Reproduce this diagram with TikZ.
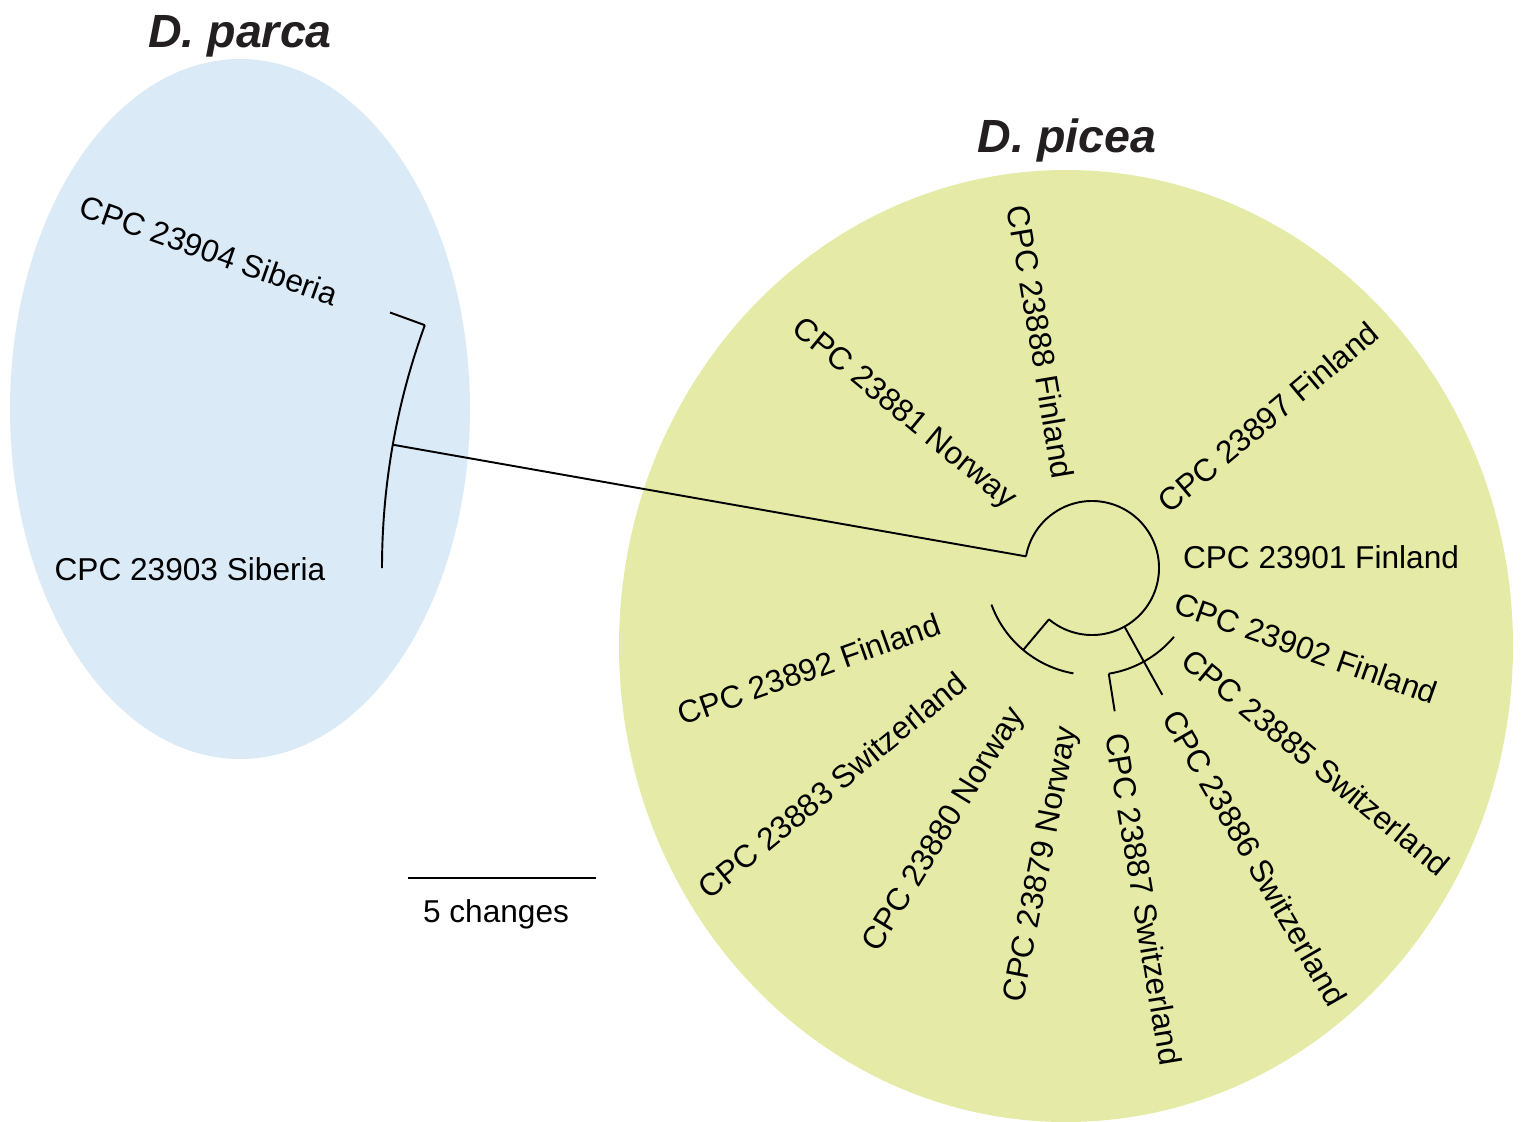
\documentclass[tikz,border=0pt]{standalone}
\usepackage{fontspec}
\setmainfont{Liberation Sans}

\definecolor{parcablue}{RGB}{218,234,247}
\definecolor{piceagreen}{RGB}{229,235,166}
\definecolor{titlegray}{RGB}{35,31,32}

\tikzset{
  branch/.style={line width=1.1pt, black},
  leaf/.style={inner sep=0pt, text height=13pt, text depth=0pt,
    font=\fontsize{18}{20}\selectfont},
  species/.style={inner sep=0pt, anchor=base, text=titlegray,
    font=\fontsize{26.5}{30}\selectfont\bfseries\itshape},
}

\begin{document}
\begin{tikzpicture}[x=0.02cm, y=0.02cm]
    \useasboundingbox (0,0) rectangle (1521,-1122);
    % the two species
    \fill[parcablue] (240,-409) ellipse [x radius=230, y radius=350];
    \fill[piceagreen] (1066,-646) ellipse [x radius=447, y radius=476];
    \node[species] (parcaname) at (240,-48) {D. parca};
    \node[species] (piceaname) at (1067,-153) {D. picea};

    % tree, drawn round the centre of D. picea
    \begin{scope}[shift={(1092,-568)}]
        \coordinate (root) at (170:67);
        \coordinate (parca) at (170:710);
        \coordinate (p04) at (160:710);
        \coordinate (t04) at (160:747);
        \coordinate (cA) at (230:67);
        \coordinate (nA) at (230:107);
        \coordinate (a92) at (200:107);
        \coordinate (cB) at (-61:67);
        \coordinate (t86) at (-61:145);
        \coordinate (p87) at (-81:107);
        \coordinate (t87) at (-81:145);
        \draw[branch] (root) -- (parca);
        \draw[branch] (p04) arc[start angle=160, end angle=180, radius=710];
        \draw[branch] (p04) -- (t04);
        \draw[branch] (root) arc[start angle=170, end angle=-130, radius=67];
        \draw[branch] (cA) -- (nA);
        \draw[branch] (a92) arc[start angle=200, end angle=260, radius=107];
        \draw[branch] (cB) -- (t86);
        \draw[branch] (p87) arc[start angle=-81, end angle=-40, radius=107];
        \draw[branch] (p87) -- (t87);
    \end{scope}

    % leaf names
    \node[leaf, rotate=-19.5] (l23904) at (209,-250) {CPC 23904 Siberia};
    \node[leaf] (l23903) at (190,-569) {CPC 23903 Siberia};
    \node[leaf, rotate=-39.5] (l23881) at (906,-412) {CPC 23881 Norway};
    \node[leaf, rotate=-80.5] (l23888) at (1041,-342) {CPC 23888 Finland};
    \node[leaf, rotate=40] (l23897) at (1268,-417) {CPC 23897 Finland};
    \node[leaf] (l23901) at (1321,-557) {CPC 23901 Finland};
    \node[leaf, rotate=-19.5] (l23902) at (1306,-648) {CPC 23902 Finland};
    \node[leaf, rotate=-39.5] (l23885) at (1316,-762) {CPC 23885 Switzerland};
    \node[leaf, rotate=-60] (l23886) at (1255,-858) {CPC 23886 Switzerland};
    \node[leaf, rotate=-80.5] (l23887) at (1144,-899) {CPC 23887 Switzerland};
    \node[leaf, rotate=79] (l23879) at (1039,-864) {CPC 23879 Norway};
    \node[leaf, rotate=58.5] (l23880) at (942,-828) {CPC 23880 Norway};
    \node[leaf, rotate=39.5] (l23883) at (832,-785) {CPC 23883 Switzerland};
    \node[leaf, rotate=19.5] (l23892) at (809,-669) {CPC 23892 Finland};

    % scale bar
    \coordinate (barL) at (408,-878);
    \coordinate (barR) at (596,-878);
    \draw[branch] (barL) -- (barR);
    \node[leaf] (barlabel) at (496,-911) {5 changes};
\end{tikzpicture}
\end{document}
